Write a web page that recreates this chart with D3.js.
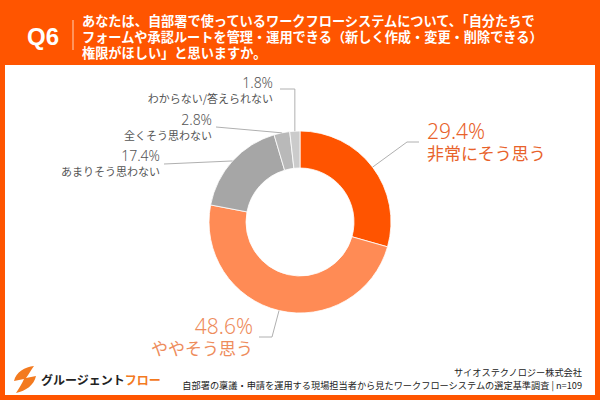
<!DOCTYPE html>
<html>
<head>
<meta charset="utf-8">
<script src="https://cdn.jsdelivr.net/npm/d3@7"></script>
<style>
  body { margin: 0; padding: 0; }
  svg { display: block; font-family: "Noto Sans CJK JP", "Noto Sans", sans-serif; }
</style>
</head>
<body>
<div id="chart"></div>
<script>
"use strict";

// answer categories, clockwise from 12 o'clock
var categories = ["非常にそう思う", "ややそう思う", "あまりそう思わない", "全くそう思わない", "わからない/答えられない"];
var values = [29.4, 48.6, 17.4, 2.8, 1.8];
var sliceColors = ["#ff5400", "#ff8b55", "#a6a6a6", "#b9b9b9", "#cbcbcb"];

var titleLines = [
	"あなたは、自部署で使っているワークフローシステムについて、「自分たちで",
	"フォームや承認ルートを管理・運用できる（新しく作成・変更・削除できる）",
	"権限がほしい」と思いますか。"
];
var footerLines = [
	"サイオステクノロジー株式会社",
	"自部署の稟議・申請を運用する現場担当者から見たワークフローシステムの選定基準調査 | n=109"
];

var width = 600, height = 400;
var cx = 300, cy = 222;
var outerR = 91, innerR = 54;
var orange = "#ff5500";

var svg = d3.select("#chart").append("svg")
	.attr("width", width)
	.attr("height", height);

//orange frame with white panel
svg.append("rect").attr("width", width).attr("height", height).style("fill", orange);
svg.append("rect")
	.attr("x", 5).attr("y", 65)
	.attr("width", 590).attr("height", 330)
	.style("fill", "#fff");

//question header
svg.append("text")
	.attr("x", 43).attr("y", 45)
	.attr("text-anchor", "middle")
	.style("font-family", "'Liberation Sans', Arial, sans-serif")
	.style("font-weight", "bold")
	.style("font-size", "24px")
	.style("fill", "#fff")
	.text("Q6");
svg.append("line")
	.attr("x1", 73).attr("x2", 73)
	.attr("y1", 20).attr("y2", 50)
	.style("stroke", "#ffd2b8")
	.style("stroke-width", "1px");
svg.selectAll(".titleLine")
	.data(titleLines)
	.enter()
	.append("text")
	.attr("class", "titleLine")
	.attr("x", 82)
	.attr("y", function(d, i){ return 26 + i*16; })
	.style("font-weight", "bold")
	.style("font-size", "13.2px")
	.style("fill", "#fff")
	.text(function(d){ return d; });

//donut
var pie = d3.pie().sort(null).value(function(d){ return d; });
var arcs = pie(values);
var arc = d3.arc().innerRadius(innerR).outerRadius(outerR);
var g = svg.append("g").attr("transform", "translate(" + cx + "," + cy + ")");

g.selectAll(".slice")
	.data(arcs)
	.enter()
	.append("path")
	.attr("class", "slice")
	.attr("d", arc)
	.style("fill", function(d, i){ return sliceColors[i]; })
	.style("stroke", "#fff")
	.style("stroke-width", "0.8px");

//point on the outer edge at the middle of a slice
function edgePoint(d){
	var a = (d.startAngle + d.endAngle)/2;
	return [cx + outerR*Math.sin(a), cy - outerR*Math.cos(a)];
}

//label layout: anchor point of the text block and the leader line elbows
var labelSpec = [
	{x: 427, y: 139, anchor: "start", big: true, color: "#e8622a", line: function(p){ return [p, [407, 142], [419, 142]]; }},
	{x: 253, y: 334, anchor: "end", big: true, color: "#ee8c5c", line: function(p){ return [p, [272, 337], [259, 337]]; }},
	{x: 160, y: 161, anchor: "end", big: false, color: "#555", line: function(p){ return [p, [164, 164]]; }},
	{x: 212, y: 125, anchor: "end", big: false, color: "#555", line: function(p){ return [p, [216, 127]]; }},
	{x: 273, y: 88, anchor: "end", big: false, color: "#555", line: function(p){ return [[p[0], p[1]], [p[0], 89], [280, 89]]; }}
];

var lineGen = d3.line();
arcs.forEach(function(d, i){
	var spec = labelSpec[i];
	svg.append("path")
		.attr("d", lineGen(spec.line(edgePoint(d))))
		.style("fill", "none")
		.style("stroke", "#b0b0b0")
		.style("stroke-width", "1px");

	svg.append("text")
		.attr("x", spec.x).attr("y", spec.y)
		.attr("text-anchor", spec.anchor)
		.style("font-family", "'Noto Sans', sans-serif")
		.style("font-weight", "300")
		.style("font-size", spec.big ? "21px" : "14px")
		.style("fill", spec.color)
		.text(d3.format(".1f")(values[i]) + "%");

	svg.append("text")
		.attr("x", spec.x).attr("y", spec.y + (spec.big ? 21 : 15))
		.attr("text-anchor", spec.anchor)
		.style("font-size", spec.big ? "17px" : "11px")
		.style("fill", spec.color)
		.text(categories[i]);
});

//footer: logo and credits
svg.append("path")
	.attr("d", "M34,366 C25,367 16,372 14,381 L24,379 C22,384 19,388 16,393 C26,391 34,385 36,376 L26,378 C29,374 31,370 34,366 Z")
	.style("fill", "#f37a1f");
var logo = svg.append("text")
	.attr("x", 41).attr("y", 385)
	.style("font-weight", "bold")
	.style("font-size", "12px");
logo.append("tspan").style("fill", "#222").text("グルージェント");
logo.append("tspan").style("fill", "#f37a1f").text("フロー");

svg.selectAll(".footerLine")
	.data(footerLines)
	.enter()
	.append("text")
	.attr("class", "footerLine")
	.attr("x", 582)
	.attr("y", function(d, i){ return 376 + i*13; })
	.attr("text-anchor", "end")
	.style("font-size", "9.2px")
	.style("fill", "#222")
	.text(function(d){ return d; });
</script>
</body>
</html>
